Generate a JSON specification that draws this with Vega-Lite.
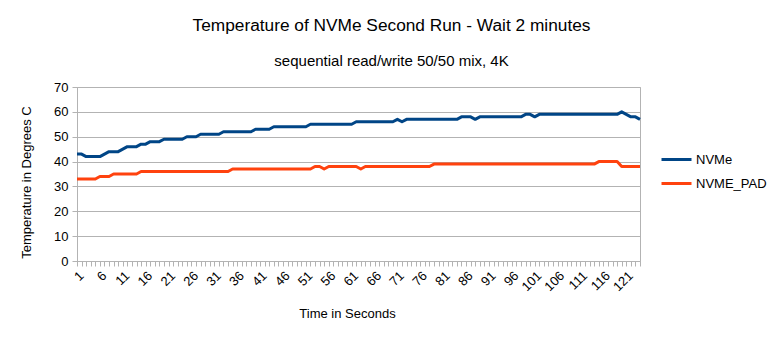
{
  "$schema": "https://vega.github.io/schema/vega-lite/v6.json",
  "width": 563,
  "height": 174,
  "autosize": {"type": "none"},
  "padding": {"left": 77, "top": 87, "right": 138, "bottom": 79},
  "background": "white",
  "title": {
    "text": "Temperature of NVMe Second Run - Wait 2 minutes",
    "subtitle": "sequential read/write 50/50 mix, 4K",
    "anchor": "middle",
    "frame": "group",
    "dx": 33,
    "font": "Liberation Sans",
    "fontSize": 17.3,
    "fontWeight": "normal",
    "color": "#000000",
    "subtitleFont": "Liberation Sans",
    "subtitleFontSize": 15,
    "subtitleColor": "#000000",
    "subtitlePadding": 20,
    "offset": 12
  },
  "config": {
    "view": {"stroke": "#b3b3b3"},
    "font": "Liberation Sans",
    "axis": {
      "labelFont": "Liberation Sans",
      "labelFontSize": 13,
      "labelColor": "#000000",
      "titleFont": "Liberation Sans",
      "titleFontSize": 13,
      "titleFontWeight": "normal",
      "titleColor": "#000000",
      "domainColor": "#b3b3b3",
      "tickColor": "#b3b3b3",
      "gridColor": "#b3b3b3",
      "tickSize": 5
    }
  },
  "data": {
    "values": [
      {"t":1,"NVMe":43,"NVME_PAD":33},{"t":2,"NVMe":43,"NVME_PAD":33},{"t":3,"NVMe":42,"NVME_PAD":33},{"t":4,"NVMe":42,"NVME_PAD":33},{"t":5,"NVMe":42,"NVME_PAD":33},
      {"t":6,"NVMe":42,"NVME_PAD":34},{"t":7,"NVMe":43,"NVME_PAD":34},{"t":8,"NVMe":44,"NVME_PAD":34},{"t":9,"NVMe":44,"NVME_PAD":35},{"t":10,"NVMe":44,"NVME_PAD":35},
      {"t":11,"NVMe":45,"NVME_PAD":35},{"t":12,"NVMe":46,"NVME_PAD":35},{"t":13,"NVMe":46,"NVME_PAD":35},{"t":14,"NVMe":46,"NVME_PAD":35},{"t":15,"NVMe":47,"NVME_PAD":36},
      {"t":16,"NVMe":47,"NVME_PAD":36},{"t":17,"NVMe":48,"NVME_PAD":36},{"t":18,"NVMe":48,"NVME_PAD":36},{"t":19,"NVMe":48,"NVME_PAD":36},{"t":20,"NVMe":49,"NVME_PAD":36},
      {"t":21,"NVMe":49,"NVME_PAD":36},{"t":22,"NVMe":49,"NVME_PAD":36},{"t":23,"NVMe":49,"NVME_PAD":36},{"t":24,"NVMe":49,"NVME_PAD":36},{"t":25,"NVMe":50,"NVME_PAD":36},
      {"t":26,"NVMe":50,"NVME_PAD":36},{"t":27,"NVMe":50,"NVME_PAD":36},{"t":28,"NVMe":51,"NVME_PAD":36},{"t":29,"NVMe":51,"NVME_PAD":36},{"t":30,"NVMe":51,"NVME_PAD":36},
      {"t":31,"NVMe":51,"NVME_PAD":36},{"t":32,"NVMe":51,"NVME_PAD":36},{"t":33,"NVMe":52,"NVME_PAD":36},{"t":34,"NVMe":52,"NVME_PAD":36},{"t":35,"NVMe":52,"NVME_PAD":37},
      {"t":36,"NVMe":52,"NVME_PAD":37},{"t":37,"NVMe":52,"NVME_PAD":37},{"t":38,"NVMe":52,"NVME_PAD":37},{"t":39,"NVMe":52,"NVME_PAD":37},{"t":40,"NVMe":53,"NVME_PAD":37},
      {"t":41,"NVMe":53,"NVME_PAD":37},{"t":42,"NVMe":53,"NVME_PAD":37},{"t":43,"NVMe":53,"NVME_PAD":37},{"t":44,"NVMe":54,"NVME_PAD":37},{"t":45,"NVMe":54,"NVME_PAD":37},
      {"t":46,"NVMe":54,"NVME_PAD":37},{"t":47,"NVMe":54,"NVME_PAD":37},{"t":48,"NVMe":54,"NVME_PAD":37},{"t":49,"NVMe":54,"NVME_PAD":37},{"t":50,"NVMe":54,"NVME_PAD":37},
      {"t":51,"NVMe":54,"NVME_PAD":37},{"t":52,"NVMe":55,"NVME_PAD":37},{"t":53,"NVMe":55,"NVME_PAD":38},{"t":54,"NVMe":55,"NVME_PAD":38},{"t":55,"NVMe":55,"NVME_PAD":37},
      {"t":56,"NVMe":55,"NVME_PAD":38},{"t":57,"NVMe":55,"NVME_PAD":38},{"t":58,"NVMe":55,"NVME_PAD":38},{"t":59,"NVMe":55,"NVME_PAD":38},{"t":60,"NVMe":55,"NVME_PAD":38},
      {"t":61,"NVMe":55,"NVME_PAD":38},{"t":62,"NVMe":56,"NVME_PAD":38},{"t":63,"NVMe":56,"NVME_PAD":37},{"t":64,"NVMe":56,"NVME_PAD":38},{"t":65,"NVMe":56,"NVME_PAD":38},
      {"t":66,"NVMe":56,"NVME_PAD":38},{"t":67,"NVMe":56,"NVME_PAD":38},{"t":68,"NVMe":56,"NVME_PAD":38},{"t":69,"NVMe":56,"NVME_PAD":38},{"t":70,"NVMe":56,"NVME_PAD":38},
      {"t":71,"NVMe":57,"NVME_PAD":38},{"t":72,"NVMe":56,"NVME_PAD":38},{"t":73,"NVMe":57,"NVME_PAD":38},{"t":74,"NVMe":57,"NVME_PAD":38},{"t":75,"NVMe":57,"NVME_PAD":38},
      {"t":76,"NVMe":57,"NVME_PAD":38},{"t":77,"NVMe":57,"NVME_PAD":38},{"t":78,"NVMe":57,"NVME_PAD":38},{"t":79,"NVMe":57,"NVME_PAD":39},{"t":80,"NVMe":57,"NVME_PAD":39},
      {"t":81,"NVMe":57,"NVME_PAD":39},{"t":82,"NVMe":57,"NVME_PAD":39},{"t":83,"NVMe":57,"NVME_PAD":39},{"t":84,"NVMe":57,"NVME_PAD":39},{"t":85,"NVMe":58,"NVME_PAD":39},
      {"t":86,"NVMe":58,"NVME_PAD":39},{"t":87,"NVMe":58,"NVME_PAD":39},{"t":88,"NVMe":57,"NVME_PAD":39},{"t":89,"NVMe":58,"NVME_PAD":39},{"t":90,"NVMe":58,"NVME_PAD":39},
      {"t":91,"NVMe":58,"NVME_PAD":39},{"t":92,"NVMe":58,"NVME_PAD":39},{"t":93,"NVMe":58,"NVME_PAD":39},{"t":94,"NVMe":58,"NVME_PAD":39},{"t":95,"NVMe":58,"NVME_PAD":39},
      {"t":96,"NVMe":58,"NVME_PAD":39},{"t":97,"NVMe":58,"NVME_PAD":39},{"t":98,"NVMe":58,"NVME_PAD":39},{"t":99,"NVMe":59,"NVME_PAD":39},{"t":100,"NVMe":59,"NVME_PAD":39},
      {"t":101,"NVMe":58,"NVME_PAD":39},{"t":102,"NVMe":59,"NVME_PAD":39},{"t":103,"NVMe":59,"NVME_PAD":39},{"t":104,"NVMe":59,"NVME_PAD":39},{"t":105,"NVMe":59,"NVME_PAD":39},
      {"t":106,"NVMe":59,"NVME_PAD":39},{"t":107,"NVMe":59,"NVME_PAD":39},{"t":108,"NVMe":59,"NVME_PAD":39},{"t":109,"NVMe":59,"NVME_PAD":39},{"t":110,"NVMe":59,"NVME_PAD":39},
      {"t":111,"NVMe":59,"NVME_PAD":39},{"t":112,"NVMe":59,"NVME_PAD":39},{"t":113,"NVMe":59,"NVME_PAD":39},{"t":114,"NVMe":59,"NVME_PAD":39},{"t":115,"NVMe":59,"NVME_PAD":40},
      {"t":116,"NVMe":59,"NVME_PAD":40},{"t":117,"NVMe":59,"NVME_PAD":40},{"t":118,"NVMe":59,"NVME_PAD":40},{"t":119,"NVMe":59,"NVME_PAD":40},{"t":120,"NVMe":60,"NVME_PAD":38},
      {"t":121,"NVMe":59,"NVME_PAD":38},{"t":122,"NVMe":58,"NVME_PAD":38},{"t":123,"NVMe":58,"NVME_PAD":38},{"t":124,"NVMe":57,"NVME_PAD":38}
    ]
  },
  "transform": [{"fold": ["NVMe", "NVME_PAD"], "as": ["series", "temp"]}],
  "mark": {"type": "line", "strokeWidth": 3, "strokeJoin": "round"},
  "encoding": {
    "x": {
      "field": "t",
      "type": "ordinal",
      "sort": "ascending",
      "scale": {"type": "point", "padding": 0},
      "axis": {
        "title": "Time in Seconds",
        "titleX": 270,
        "titlePadding": 14,
        "labelAngle": -45,
        "labelOverlap": false,
        "labelExpr": "(datum.value - 1) % 5 == 0 ? datum.label : ''",
        "grid": false,
        "labelPadding": 3
      }
    },
    "y": {
      "field": "temp",
      "type": "quantitative",
      "scale": {"domain": [0, 70], "nice": false},
      "axis": {
        "title": "Temperature in Degrees C",
        "values": [0, 10, 20, 30, 40, 50, 60, 70],
        "titleY": 95,
        "titlePadding": 20,
        "labelPadding": 4,
        "grid": true
      }
    },
    "color": {
      "field": "series",
      "type": "nominal",
      "scale": {"domain": ["NVMe", "NVME_PAD"], "range": ["#004586", "#ff420e"]},
      "legend": {
        "title": null,
        "orient": "none",
        "legendX": 583,
        "legendY": 56,
        "padding": 0,
        "symbolType": "stroke",
        "symbolSize": 900,
        "symbolStrokeWidth": 3,
        "labelFont": "Liberation Sans",
        "labelFontSize": 13,
        "labelColor": "#000000",
        "labelOffset": 3,
        "rowPadding": -14
      }
    }
  }
}
